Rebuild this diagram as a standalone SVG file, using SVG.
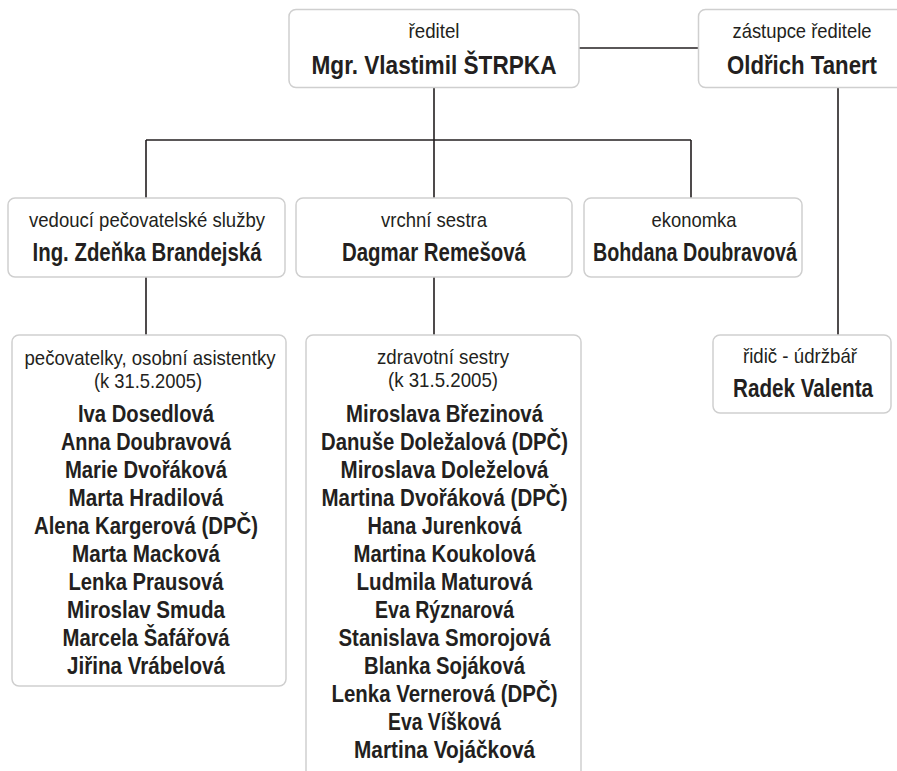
<svg xmlns="http://www.w3.org/2000/svg" width="897" height="771" viewBox="0 0 897 771">
<style>
.box{fill:#fff;stroke:#cfcfcf;stroke-width:1.5}
.ln{stroke:#231f20;stroke-width:1.6;fill:none}
text{font-family:"Liberation Sans Narrow","Liberation Sans",Arial,sans-serif;fill:#231f20;text-anchor:middle}
.r{font-size:21px}
.b{font-size:25px;font-weight:bold}
.n{font-size:24px;font-weight:bold}
</style>
<rect width="897" height="771" fill="#fff"/>
<g id="connectors">
<path class="ln" d="M579 48H698"/>
<path class="ln" d="M434 88V140"/>
<path class="ln" d="M146 140H691"/>
<path class="ln" d="M146 140V198M434 140V198M691 140V198"/>
<path class="ln" d="M146 277V335M434 277V335"/>
<path class="ln" d="M838 88V335"/>
</g>
<g id="reditel">
<rect class="box" x="289" y="9.5" width="290" height="78" rx="7"/>
<text class="r" x="434" y="38" textLength="51" lengthAdjust="spacingAndGlyphs">ředitel</text>
<text class="b" x="434" y="74" textLength="245" lengthAdjust="spacingAndGlyphs">Mgr. Vlastimil ŠTRPKA</text>
</g>
<g id="zastupce">
<rect class="box" x="698.5" y="9.5" width="210" height="78" rx="7"/>
<text class="r" x="802" y="38" textLength="139" lengthAdjust="spacingAndGlyphs">zástupce ředitele</text>
<text class="b" x="802" y="74" textLength="150" lengthAdjust="spacingAndGlyphs">Oldřich Tanert</text>
</g>
<g id="vedouci">
<rect class="box" x="8" y="198" width="277" height="79" rx="7"/>
<text class="r" x="147" y="227" textLength="236" lengthAdjust="spacingAndGlyphs">vedoucí pečovatelské služby</text>
<text class="b" x="147" y="261" textLength="229" lengthAdjust="spacingAndGlyphs">Ing. Zdeňka Brandejská</text>
</g>
<g id="vrchni">
<rect class="box" x="296" y="198" width="276" height="79" rx="7"/>
<text class="r" x="434" y="227" textLength="106" lengthAdjust="spacingAndGlyphs">vrchní sestra</text>
<text class="b" x="434" y="261" textLength="184" lengthAdjust="spacingAndGlyphs">Dagmar Remešová</text>
</g>
<g id="ekonomka">
<rect class="box" x="584" y="198" width="218" height="79" rx="7"/>
<text class="r" x="694" y="227" textLength="85" lengthAdjust="spacingAndGlyphs">ekonomka</text>
<text class="b" x="695" y="261" textLength="204" lengthAdjust="spacingAndGlyphs">Bohdana Doubravová</text>
</g>
<g id="ridic">
<rect class="box" x="713" y="335" width="178" height="78" rx="7"/>
<text class="r" x="800" y="363" textLength="114" lengthAdjust="spacingAndGlyphs">řidič - údržbář</text>
<text class="b" x="803" y="397" textLength="140" lengthAdjust="spacingAndGlyphs">Radek Valenta</text>
</g>
<g id="pecovatelky">
<rect class="box" x="12" y="335" width="274" height="351" rx="7"/>
<text class="r" x="150" y="365" textLength="251" lengthAdjust="spacingAndGlyphs">pečovatelky, osobní asistentky</text>
<text class="r" x="148" y="388" textLength="108" lengthAdjust="spacingAndGlyphs">(k 31.5.2005)</text>
<text class="n" x="146" y="422" textLength="136" lengthAdjust="spacingAndGlyphs">Iva Dosedlová</text>
<text class="n" x="146" y="450" textLength="170" lengthAdjust="spacingAndGlyphs">Anna Doubravová</text>
<text class="n" x="146" y="478" textLength="162" lengthAdjust="spacingAndGlyphs">Marie Dvořáková</text>
<text class="n" x="146" y="506" textLength="155" lengthAdjust="spacingAndGlyphs">Marta Hradilová</text>
<text class="n" x="146" y="534" textLength="224" lengthAdjust="spacingAndGlyphs">Alena Kargerová (DPČ)</text>
<text class="n" x="146" y="562" textLength="148" lengthAdjust="spacingAndGlyphs">Marta Macková</text>
<text class="n" x="146" y="590" textLength="155" lengthAdjust="spacingAndGlyphs">Lenka Prausová</text>
<text class="n" x="146" y="618" textLength="158" lengthAdjust="spacingAndGlyphs">Miroslav Smuda</text>
<text class="n" x="146" y="646" textLength="167" lengthAdjust="spacingAndGlyphs">Marcela Šafářová</text>
<text class="n" x="146" y="674" textLength="158" lengthAdjust="spacingAndGlyphs">Jiřina Vrábelová</text>
</g>
<g id="sestry">
<rect class="box" x="306" y="335" width="275" height="470" rx="7"/>
<text class="r" x="443" y="364" textLength="132" lengthAdjust="spacingAndGlyphs">zdravotní sestry</text>
<text class="r" x="443" y="387" textLength="110" lengthAdjust="spacingAndGlyphs">(k 31.5.2005)</text>
<text class="n" x="444.5" y="422" textLength="197" lengthAdjust="spacingAndGlyphs">Miroslava Březinová</text>
<text class="n" x="444.5" y="450" textLength="247" lengthAdjust="spacingAndGlyphs">Danuše Doležalová (DPČ)</text>
<text class="n" x="444.5" y="478" textLength="208" lengthAdjust="spacingAndGlyphs">Miroslava Doleželová</text>
<text class="n" x="444.5" y="506" textLength="246" lengthAdjust="spacingAndGlyphs">Martina Dvořáková (DPČ)</text>
<text class="n" x="444.5" y="534" textLength="154" lengthAdjust="spacingAndGlyphs">Hana Jurenková</text>
<text class="n" x="444.5" y="562" textLength="182" lengthAdjust="spacingAndGlyphs">Martina Koukolová</text>
<text class="n" x="444.5" y="590" textLength="176" lengthAdjust="spacingAndGlyphs">Ludmila Maturová</text>
<text class="n" x="444.5" y="618" textLength="139" lengthAdjust="spacingAndGlyphs">Eva Rýznarová</text>
<text class="n" x="444.5" y="646" textLength="212" lengthAdjust="spacingAndGlyphs">Stanislava Smorojová</text>
<text class="n" x="444.5" y="674" textLength="161" lengthAdjust="spacingAndGlyphs">Blanka Sojáková</text>
<text class="n" x="444.5" y="702" textLength="226" lengthAdjust="spacingAndGlyphs">Lenka Vernerová (DPČ)</text>
<text class="n" x="444.5" y="730" textLength="113" lengthAdjust="spacingAndGlyphs">Eva Víšková</text>
<text class="n" x="444.5" y="758" textLength="181" lengthAdjust="spacingAndGlyphs">Martina Vojáčková</text>
</g>
</svg>
